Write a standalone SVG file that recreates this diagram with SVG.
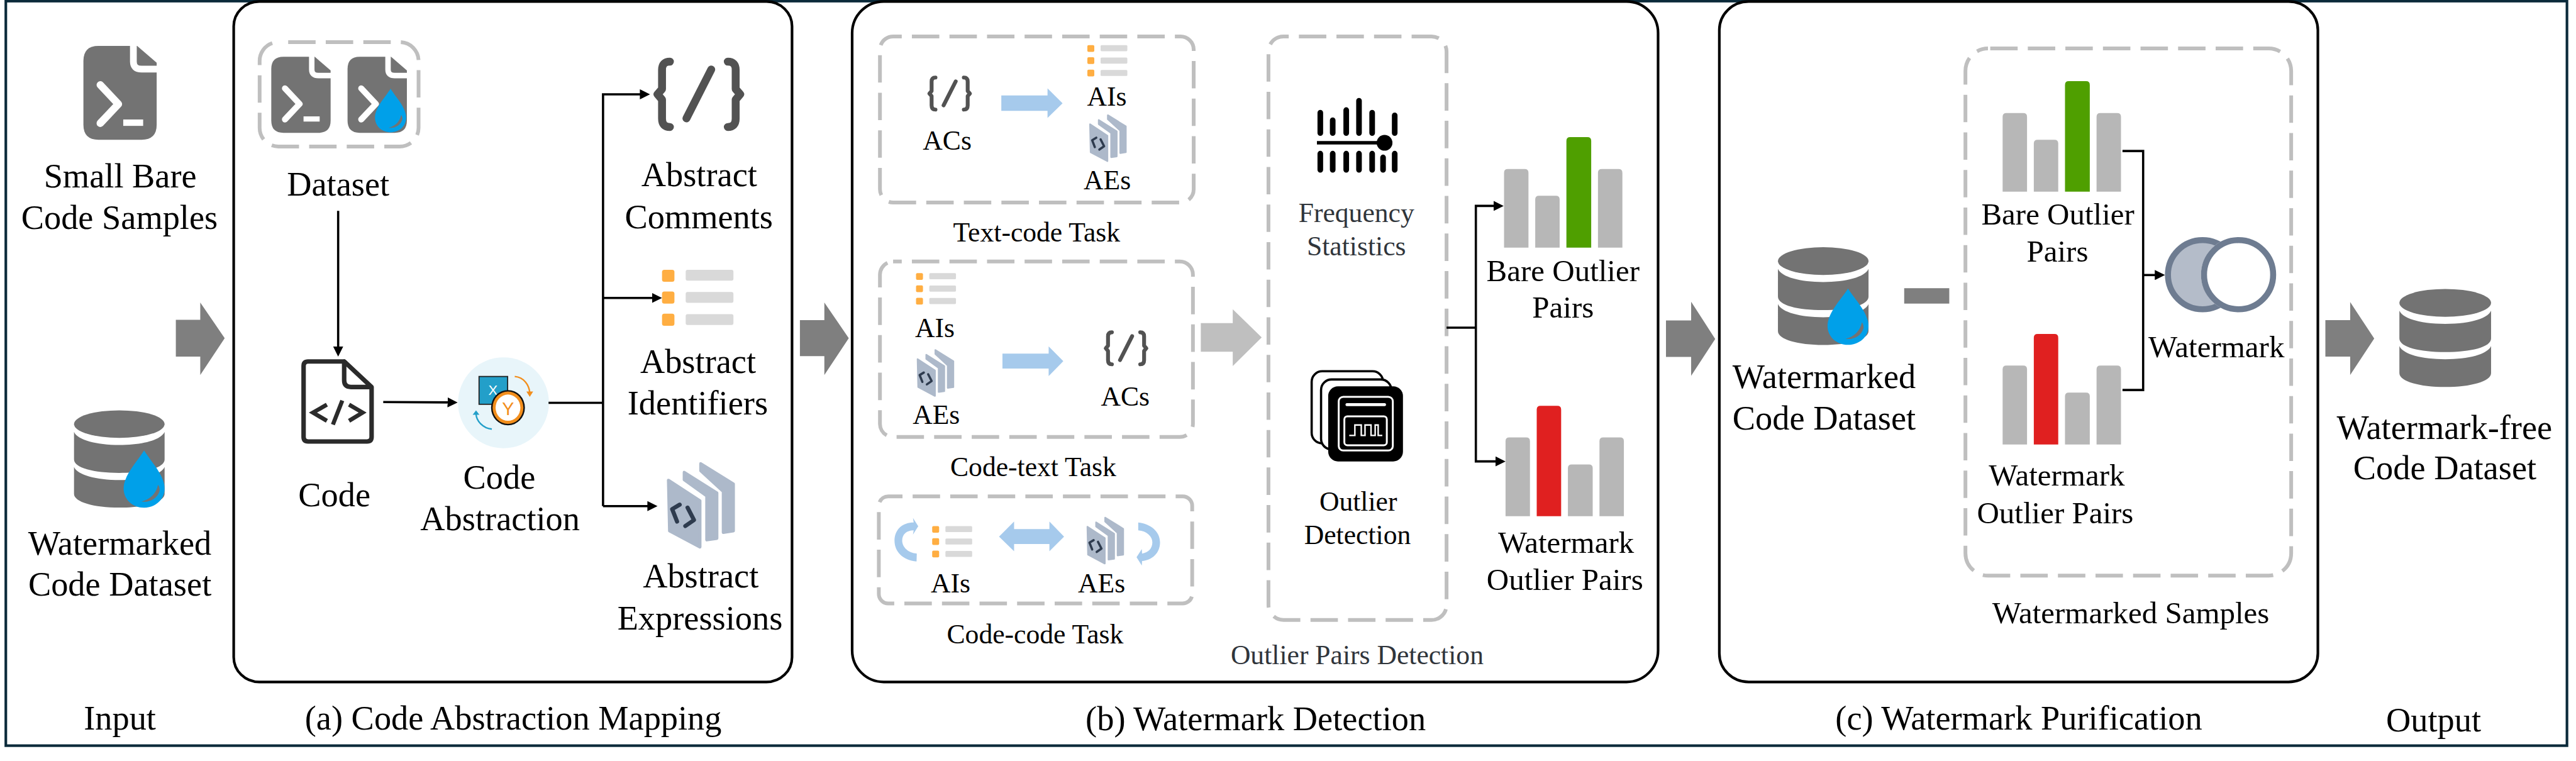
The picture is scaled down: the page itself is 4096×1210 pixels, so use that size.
<svg xmlns="http://www.w3.org/2000/svg" xmlns:xlink="http://www.w3.org/1999/xlink" width="4096" height="1210" viewBox="0 0 4096 1210">
<style>
text{font-family:"Liberation Serif","Times New Roman",serif;fill:#000;text-anchor:middle}
.f91{font-size:91px}.f82{font-size:82px}.f73{font-size:73px}
.soft{fill:#30353b}
.panel{fill:#fff;stroke:#000;stroke-width:7}
.dash{fill:none;stroke:#bfbfbf;stroke-width:10;stroke-dasharray:73 27}
.conn{fill:none;stroke:#000;stroke-width:6;marker-end:url(#head)}
.plain{fill:none;stroke:#000;stroke-width:6}
.block{fill:#7f7f7f}
.pale{fill:#a6caec}
.isans{font-family:"Liberation Sans",Arial,sans-serif}
</style>
<defs>
<marker id="head" viewBox="0 0 27 27" refX="17" refY="13.5" markerWidth="27" markerHeight="27" markerUnits="userSpaceOnUse" orient="auto"><polygon points="0,0 27,13.5 0,27" fill="#000"/></marker>
<g id="doc">
<path d="M40,0H143L195,45V210Q195,250 155,250H40Q0,250 0,210V40Q0,0 40,0Z" fill="#737373"/>
<path d="M133,-2V42Q133,62 155,62H197" fill="none" stroke="#fff" stroke-width="18"/>
<path d="M45,104L93,155L45,206" fill="none" stroke="#fff" stroke-width="20" stroke-linecap="round" stroke-linejoin="round"/>
<rect x="106" y="196" width="53" height="17" fill="#fff"/>
</g>
<g id="drop">
<path d="M50,0C35,25 0,60 0,93C0,120 22,140 50,140C78,140 100,120 100,93C100,60 65,25 50,0Z" fill="#00a0e9"/>
<path d="M84,84C80,105 65,120 44,125C60,128 82,120 88,98C88,92 87,88 84,84Z" fill="#737373"/>
</g>
<g id="db" fill="#737373">
<ellipse cx="122" cy="37" rx="122" ry="37"/>
<path d="M0,58C10,80 60,93 122,93C184,93 234,80 244,58V132C244,155 190,168 122,168C54,168 0,155 0,132Z"/>
<path d="M0,152C10,174 60,187 122,187C184,187 234,174 244,152V224C244,246 190,261 122,261C54,261 0,246 0,224Z"/>
</g>
<g id="ac" fill="none" stroke="#525252" stroke-width="21" stroke-linecap="round" stroke-linejoin="round">
<path d="M-77,-87Q-98,-87 -98,-65V-14L-110,0L-98,14V65Q-98,87 -77,87"/>
<path d="M77,-87Q98,-87 98,-65V-14L110,0L98,14V65Q98,87 77,87"/>
<path d="M33,-66L-33,64"/>
</g>
<g id="ai">
<rect x="0" y="0" width="33" height="32" rx="6" fill="#ffae42"/><rect x="0" y="58" width="33" height="32" rx="6" fill="#ffae42"/><rect x="0" y="117" width="33" height="32" rx="6" fill="#ffae42"/>
<rect x="63" y="0" width="127" height="29" rx="5" fill="#d9d9d9"/><rect x="63" y="59" width="127" height="29" rx="5" fill="#d9d9d9"/><rect x="63" y="118" width="127" height="29" rx="5" fill="#d9d9d9"/>
</g>
<g id="ae">
<g fill="#adb9ca" stroke="#adb9ca" stroke-width="8" stroke-linejoin="round">
<polygon points="4,47 88,102 88,225 7,182"/>
<polygon points="46,26 133,81 133,202 106,206 106,89 46,46"/>
<polygon points="90,3 177,57 177,182 150,186 150,77 90,22"/>
</g>
<path d="M34,112L14,124L27,157M55,120L72,153L49,169" fill="none" stroke="#2e3b4e" stroke-width="11" stroke-linecap="round" stroke-linejoin="round"/>
</g>
<g id="chartG">
<path d="M0,294V95Q0,85 10,85H55Q65,85 65,95V294Z" fill="#b7b7b7"/>
<path d="M83,294V166Q83,156 93,156H138Q148,156 148,166V294Z" fill="#b7b7b7"/>
<path d="M166,294V10Q166,0 176,0H222Q232,0 232,10V294Z" fill="#4f9f00"/>
<path d="M250,294V95Q250,85 260,85H305Q315,85 315,95V294Z" fill="#b7b7b7"/>
</g>
<g id="chartR">
<path d="M0,294V94Q0,84 10,84H55Q65,84 65,94V294Z" fill="#b7b7b7"/>
<path d="M83,294V10Q83,0 93,0H138Q148,0 148,10V294Z" fill="#e02020"/>
<path d="M166,294V166Q166,156 176,156H222Q232,156 232,166V294Z" fill="#b7b7b7"/>
<path d="M250,294V94Q250,84 260,84H305Q315,84 315,94V294Z" fill="#b7b7b7"/>
</g>
</defs>
<rect width="4096" height="1210" fill="#fff"/>
<g transform="scale(0.59743)">
<rect id="frame" x="15.5" y="3" width="6816.5" height="1981.5" fill="#fff" stroke="#0b2a3a" stroke-width="7"/>

<rect id="panel-a" class="panel" x="622" y="4" width="1486" height="1811" rx="68" ry="66"/>
<rect id="panel-b" class="panel" x="2268" y="4" width="2145" height="1811" rx="84" ry="84"/>
<rect id="panel-c" class="panel" x="4576" y="4" width="1593" height="1811" rx="78" ry="76"/>

<g id="small-bare-samples">
<use href="#doc" transform="translate(222,122)"/>
<text class="f91" x="320" y="499">Small Bare</text>
<text class="f91" x="318" y="609">Code Samples</text>
</g>
<g id="watermarked-input">
<use href="#db" transform="translate(197,1092) scale(0.988,0.992)"/>
<use href="#drop" transform="translate(329,1199) scale(1.09,1.086)"/>
<text class="f91" x="319" y="1476">Watermarked</text>
<text class="f91" x="319" y="1585">Code Dataset</text>
</g>
<text id="label-input" class="f91" x="319" y="1941">Input</text>

<g id="dataset">
<rect class="dash" x="691" y="112" width="423" height="278" rx="50" style="stroke-dashoffset:74"/>
<use href="#doc" transform="translate(722,151) scale(0.81)"/>
<use href="#doc" transform="translate(925,151) scale(0.81)"/>
<use href="#drop" transform="translate(998,236) scale(0.83)"/>
<text class="f91" x="900" y="520">Dataset</text>
</g>
<g id="code">
<path d="M916,962H820Q808,962 808,974V1163Q808,1175 820,1175H977Q989,1175 989,1163V1030L916,962V1012Q916,1030 934,1030H989" fill="none" stroke="#2b2b2b" stroke-width="12" stroke-linejoin="round"/>
<path d="M870,1077L833,1098L870,1120M911,1066L886,1130M929,1077L965,1098L929,1120" fill="none" stroke="#2b2b2b" stroke-width="11"/>
<text class="f91" x="890" y="1347">Code</text>
</g>
<g id="code-abstraction">
<ellipse cx="1340" cy="1072" rx="121" ry="121" fill="#e8f5fa"/>
<rect x="1275" y="1002" width="76" height="74" fill="#239fc9" stroke="#222" stroke-width="3"/>
<text class="isans" x="1312" y="1052" font-size="37" style="fill:#fff">X</text>
<ellipse cx="1352" cy="1085" rx="45" ry="47" fill="#111"/>
<ellipse cx="1352" cy="1085" rx="41" ry="43" fill="#f28e1c"/>
<ellipse cx="1352" cy="1085" rx="33" ry="35" fill="#fff"/>
<text class="isans" x="1352" y="1105" font-size="48" style="fill:#f28e1c">Y</text>
<path d="M1370,1002C1395,1004 1408,1025 1410,1045" fill="none" stroke="#f28e1c" stroke-width="4"/>
<polygon points="1401,1042 1419,1042 1410,1056" fill="#f28e1c"/>
<path d="M1309,1142C1285,1140 1268,1120 1267,1102" fill="none" stroke="#239fc9" stroke-width="4"/>
<polygon points="1258,1104 1276,1104 1267,1092" fill="#239fc9"/>
<text class="f91" x="1329" y="1300">Code</text>
<text class="f91" x="1331" y="1411">Abstraction</text>
</g>
<g id="abstract-comments">
<use href="#ac" transform="translate(1860,251)"/>
<text class="f91" x="1861" y="496">Abstract</text>
<text class="f91" x="1860" y="607">Comments</text>
</g>
<g id="abstract-identifiers">
<use href="#ai" transform="translate(1762,718)"/>
<text class="f91" x="1858" y="993">Abstract</text>
<text class="f91" x="1857" y="1103">Identifiers</text>
</g>
<g id="abstract-expressions">
<use href="#ae" transform="translate(1775,1231)"/>
<text class="f91" x="1865" y="1564">Abstract</text>
<text class="f91" x="1863" y="1675">Expressions</text>
</g>
<text id="label-a" class="f91" x="1366" y="1942">(a) Code Abstraction Mapping</text>

<g id="text-code-task">
<rect class="dash" x="2342" y="97" width="835" height="442" rx="35" style="stroke-dashoffset:50"/>
<use href="#ac" transform="translate(2527.5,249) scale(0.49)"/>
<text class="f73" x="2521" y="399">ACs</text>
<polygon class="pale" points="2665,254 2788,254 2788,235 2828,275 2788,314 2788,295 2665,295"/>
<use href="#ai" transform="translate(2894,120) scale(0.56)"/>
<text class="f73" x="2946" y="282">AIs</text>
<use href="#ae" transform="translate(2899,305) scale(0.55)"/>
<text class="f73" x="2947" y="504">AEs</text>
<text class="f73" x="2759" y="642">Text-code Task</text>
</g>
<g id="code-text-task">
<rect class="dash" x="2342" y="696" width="833" height="467" rx="35" style="stroke-dashoffset:50"/>
<use href="#ai" transform="translate(2438,727) scale(0.56)"/>
<text class="f73" x="2488" y="898">AIs</text>
<use href="#ae" transform="translate(2440,930) scale(0.55)"/>
<text class="f73" x="2492" y="1129">AEs</text>
<polygon class="pale" points="2668,941 2791,941 2791,922 2830,961 2791,1001 2791,981 2668,981"/>
<use href="#ac" transform="translate(2997,927) scale(0.49)"/>
<text class="f73" x="2995" y="1080">ACs</text>
<text class="f73" x="2750" y="1267">Code-text Task</text>
</g>
<g id="code-code-task">
<rect class="dash" x="2339" y="1321" width="834" height="285" rx="25" style="stroke-dashoffset:35"/>
<g transform="translate(2250,1000) scale(0.6378)">
<path class="pale" d="M297,775C240,770 205,735 205,688C205,640 240,612 285,612L282,593L304,628L282,663L285,645C255,645 237,662 237,688C237,715 262,740 298,742Z"/>
<path class="pale" d="M1222,612C1275,618 1313,650 1313,695C1313,740 1280,770 1238,773L1237,792L1215,757L1237,723L1238,742C1265,738 1281,720 1281,695C1281,670 1258,648 1222,645Z"/>
</g>
<use href="#ai" transform="translate(2481,1400) scale(0.56)"/>
<text class="f73" x="2530" y="1577">AIs</text>
<polygon class="pale" points="2659,1428 2699,1388 2699,1408 2793,1408 2793,1388 2832,1428 2793,1467 2793,1448 2699,1448 2699,1467"/>
<use href="#ae" transform="translate(2892,1376) scale(0.55)"/>
<text class="f73" x="2932" y="1577">AEs</text>
<text class="f73" x="2755" y="1713">Code-code Task</text>
</g>

<g id="outlier-pairs-detection">
<rect class="dash" x="3376" y="97" width="474" height="1553" rx="40" style="stroke-dashoffset:59"/>
<g id="frequency-statistics">
<path d="M3514,300V354M3547,320V354M3583,293V354M3617,268V354M3652,300V354M3712,307V354M3514,409V452M3547,409V452M3583,409V452M3617,409V452M3652,409V452M3681,419V452M3712,409V452" fill="none" stroke="#000" stroke-width="15" stroke-linecap="round"/>
<path d="M3505,380H3680" fill="none" stroke="#000" stroke-width="9"/>
<circle cx="3685" cy="380" r="21" fill="#000"/>
<text class="f73 soft" x="3610" y="591">Frequency</text>
<text class="f73 soft" x="3610" y="680">Statistics</text>
</g>
<g id="outlier-detection">
<rect x="3491" y="988" width="190" height="192" rx="28" fill="#fff" stroke="#000" stroke-width="6"/>
<rect x="3516" y="1010" width="187" height="186" rx="28" fill="#fff" stroke="#000" stroke-width="6"/>
<rect x="3535" y="1028" width="199" height="200" rx="26" fill="#000"/>
<rect x="3563" y="1056" width="144" height="143" rx="12" fill="none" stroke="#fff" stroke-width="5"/>
<rect x="3581" y="1073" width="108" height="8" rx="4" fill="#fff"/>
<rect x="3578" y="1108" width="113" height="77" rx="8" fill="none" stroke="#fff" stroke-width="5"/>
<path d="M3591,1159H3606V1131H3623V1159H3633V1131H3649V1159H3660V1131H3668V1159H3679" fill="none" stroke="#fff" stroke-width="4"/>
<text class="f73" x="3615" y="1359">Outlier</text>
<text class="f73" x="3613" y="1448">Detection</text>
</g>
<text class="f73 soft" x="3612" y="1767">Outlier Pairs Detection</text>
</g>
<g id="bare-outlier-pairs">
<use href="#chartG" transform="translate(4003,365)"/>
<text class="f82" x="4160" y="749">Bare Outlier</text>
<text class="f82" x="4160" y="846">Pairs</text>
</g>
<g id="watermark-outlier-pairs">
<use href="#chartR" transform="translate(4007,1080)"/>
<text class="f82" x="4168" y="1472">Watermark</text>
<text class="f82" x="4165" y="1570">Outlier Pairs</text>
</g>
<text id="label-b" class="f91" x="3342" y="1943">(b) Watermark Detection</text>

<g id="watermarked-dataset">
<use href="#db" transform="translate(4732,658) scale(0.988,0.996)"/>
<use href="#drop" transform="translate(4864,768) scale(1.09,1.07)"/>
<text class="f91" x="4855" y="1033">Watermarked</text>
<text class="f91" x="4855" y="1143">Code Dataset</text>
</g>
<rect id="minus" class="block" x="5068" y="767" width="120" height="41"/>
<g id="watermarked-samples">
<rect class="dash" x="5231" y="129" width="867" height="1403" rx="60" style="stroke-dashoffset:94"/>
<g id="bare-outlier-pairs-2">
<use href="#chartG" transform="translate(5330,216)"/>
<text class="f82" x="5477" y="598">Bare Outlier</text>
<text class="f82" x="5476" y="696">Pairs</text>
</g>
<g id="watermark-outlier-pairs-2">
<use href="#chartR" transform="translate(5330,889)"/>
<text class="f82" x="5474" y="1293">Watermark</text>
<text class="f82" x="5470" y="1392">Outlier Pairs</text>
</g>
<g id="watermark">
<circle cx="5862" cy="731" r="92" fill="#b4bcc9" stroke="#6e7c91" stroke-width="16"/>
<circle cx="5958" cy="731" r="100" fill="#fff"/>
<circle cx="5958" cy="731" r="92" fill="#fff" stroke="#6e7c91" stroke-width="16"/>
<text class="f82" x="5899" y="950">Watermark</text>
</g>
<text class="f82" x="5671" y="1659">Watermarked Samples</text>
</g>
<text id="label-c" class="f91" x="5373" y="1942">(c) Watermark Purification</text>

<g id="watermark-free-dataset">
<use href="#db" transform="translate(6386,769)"/>
<text class="f91" x="6506" y="1168">Watermark-free</text>
<text class="f91" x="6507" y="1276">Code Dataset</text>
</g>
<text id="label-output" class="f91" x="6477" y="1947">Output</text>

<g id="connectors">
<polygon class="block" points="468,851 533,851 533,805 598,900 533,998 533,949 468,949"/>
<polygon class="block" points="2129,852 2194,852 2194,805 2259,900 2194,998 2194,948 2129,948"/>
<polygon points="3196,860 3281,860 3281,823 3358,898 3281,974 3281,936 3196,936" fill="#bfbfbf"/>
<polygon class="block" points="4434,853 4501,853 4501,803 4565,902 4501,1000 4501,950 4434,950"/>
<polygon class="block" points="6189,852 6255,852 6255,804 6319,901 6255,998 6255,949 6189,949"/>
<path class="conn" d="M900,561V939"/>
<path class="conn" d="M1020,1070L1208,1071"/>
<path class="plain" d="M1460,1072H1605"/>
<path class="conn" d="M1605,1347V251H1720"/>
<path class="conn" d="M1605,793H1752"/>
<path class="conn" d="M1605,1347H1740"/>
<path class="plain" d="M3850,872H3928"/>
<path class="conn" d="M3928,872V548H3992"/>
<path class="conn" d="M3928,872V1228H3997"/>
<path class="plain" d="M5649,402H5704V1038H5649"/>
<path class="conn" d="M5704,732H5752"/>
</g>
</g>
</svg>
